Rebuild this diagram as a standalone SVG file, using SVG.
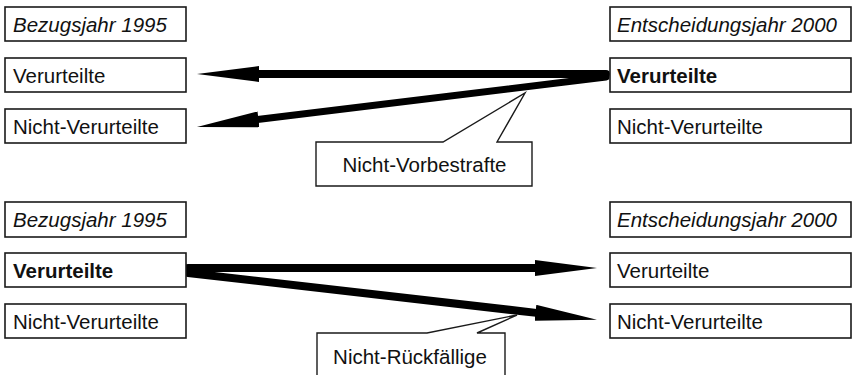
<svg xmlns="http://www.w3.org/2000/svg" width="852" height="375" viewBox="0 0 852 375">
<style>
.box{fill:#fff;stroke:#1a1a1a;stroke-width:1.6}
.t{font-family:"Liberation Sans",Arial,sans-serif;font-size:20.5px;fill:#111}
.i{font-style:italic}
.b{font-weight:bold}
.c{text-anchor:middle}
.arr{stroke:#000;fill:none;stroke-linecap:round;marker-end:url(#head)}
.call{fill:#fff;stroke:#1a1a1a;stroke-width:1.4;stroke-linejoin:miter}
</style>
<defs>
<marker id="head" markerUnits="userSpaceOnUse" viewBox="0 0 62 16" markerWidth="62" markerHeight="16" refX="1" refY="8" orient="auto">
<path d="M0,0 L62,8 L0,16 Z" fill="#000"/>
</marker>
</defs>
<rect width="852" height="375" fill="#fff"/>
<g id="connectors">
<line class="arr" x1="606" y1="74" x2="258" y2="74" stroke-width="8"/>
<line class="arr" x1="606" y1="77" x2="257.5" y2="119.5" stroke-width="7"/>
<line class="arr" x1="188" y1="268" x2="536" y2="268" stroke-width="8"/>
<line class="arr" x1="188" y1="273" x2="536.4" y2="312.9" stroke-width="8"/>
</g>
<g id="top-left-year"><rect class="box" x="5" y="7" width="181" height="34"/><text class="t i" x="13" y="32">Bezugsjahr 1995</text></g>
<g id="top-left-verurteilte"><rect class="box" x="5" y="58" width="181" height="34"/><text class="t" x="13" y="83">Verurteilte</text></g>
<g id="top-left-nicht"><rect class="box" x="5" y="109" width="181" height="34"/><text class="t" x="13" y="134">Nicht-Verurteilte</text></g>
<g id="top-right-year"><rect class="box" x="610" y="7" width="241" height="34"/><text class="t i" x="617" y="32">Entscheidungsjahr 2000</text></g>
<g id="top-right-verurteilte"><rect class="box" x="610" y="58" width="241" height="34"/><text class="t b" x="617" y="83">Verurteilte</text></g>
<g id="top-right-nicht"><rect class="box" x="610" y="109" width="241" height="34"/><text class="t" x="617" y="134">Nicht-Verurteilte</text></g>
<g id="callout-vorbestrafte"><path class="call" d="M316,142 L443,142 L525,93 L497,142 L532,142 L532,186 L316,186 Z"/><text class="t c" x="424.5" y="172">Nicht-Vorbestrafte</text></g>
<g id="bottom-left-year"><rect class="box" x="5" y="202" width="181" height="35"/><text class="t i" x="13" y="227">Bezugsjahr 1995</text></g>
<g id="bottom-left-verurteilte"><rect class="box" x="5" y="253" width="181" height="34"/><text class="t b" x="13" y="278">Verurteilte</text></g>
<g id="bottom-left-nicht"><rect class="box" x="5" y="304" width="181" height="34"/><text class="t" x="13" y="329">Nicht-Verurteilte</text></g>
<g id="bottom-right-year"><rect class="box" x="610" y="202" width="241" height="35"/><text class="t i" x="617" y="227">Entscheidungsjahr 2000</text></g>
<g id="bottom-right-verurteilte"><rect class="box" x="610" y="253" width="241" height="34"/><text class="t" x="617" y="278">Verurteilte</text></g>
<g id="bottom-right-nicht"><rect class="box" x="610" y="304" width="241" height="34"/><text class="t" x="617" y="329">Nicht-Verurteilte</text></g>
<g id="callout-rueckfaellige"><path class="call" d="M317,333 L427,333 L517,315 L477,333 L505,333 L505,380 L317,380 Z"/><text class="t c" x="410" y="364">Nicht-Rückfällige</text></g>
</svg>
